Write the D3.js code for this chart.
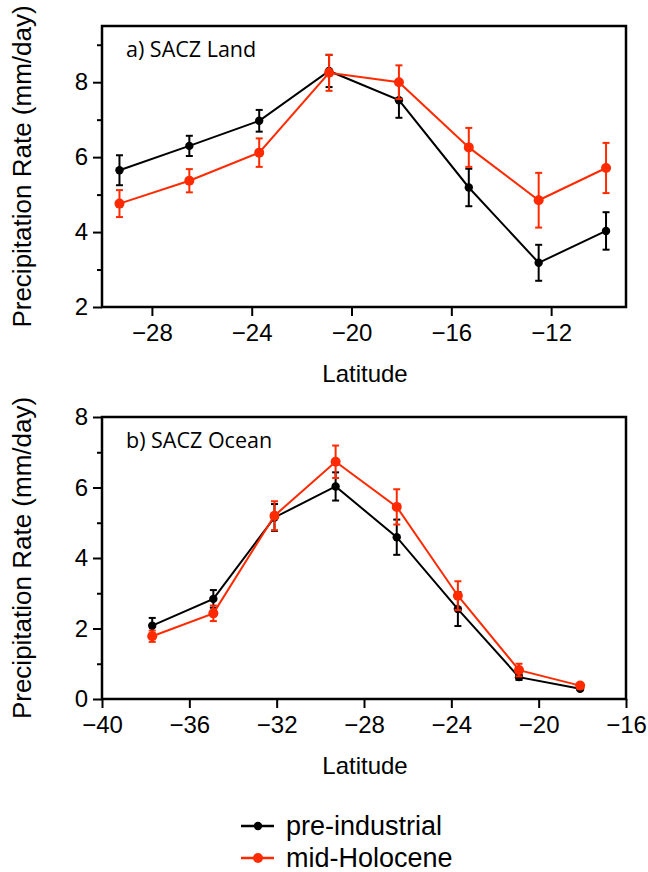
<!DOCTYPE html>
<html lang="en">
<head>
  <meta charset="UTF-8" />
  <title>SACZ precipitation</title>
  <script src="https://d3js.org/d3.v7.min.js"></script>
  <style>
    body { margin: 0; background: white; }
    svg { display: block; }
    .axis text { font-family: 'Liberation Sans', Arial, sans-serif; font-size: 24px; fill: #000; }
    .axis path, .axis line { stroke: #000; stroke-width: 2; }
  </style>
</head>
<body>
  <svg id="chart" width="648" height="872"></svg>
  <script>
    // panel a) SACZ Land
    const landLat = [-29.3, -26.5, -23.7, -20.9, -18.1, -15.3, -12.5, -9.8];
    const landPI = [5.65, 6.30, 6.97, 8.30, 7.52, 5.19, 3.18, 4.03];
    const landPIerr = [0.40, 0.27, 0.29, 0.43, 0.47, 0.50, 0.48, 0.50];
    const landMH = [4.76, 5.37, 6.12, 8.25, 8.00, 6.26, 4.85, 5.71];
    const landMHerr = [0.36, 0.31, 0.38, 0.48, 0.45, 0.52, 0.73, 0.67];

    // panel b) SACZ Ocean
    const oceanLat = [-37.7, -34.9, -32.1, -29.3, -26.5, -23.7, -20.9, -18.1];
    const oceanPI = [2.08, 2.84, 5.15, 6.03, 4.59, 2.55, 0.62, 0.29];
    const oceanPIerr = [0.22, 0.25, 0.38, 0.40, 0.50, 0.48, 0.08, 0.04];
    const oceanMH = [1.78, 2.43, 5.20, 6.73, 5.45, 2.93, 0.82, 0.38];
    const oceanMHerr = [0.16, 0.22, 0.41, 0.46, 0.50, 0.41, 0.18, 0.06];

    const seriesNames = ['pre-industrial', 'mid-Holocene'];
    const seriesColors = ['#000000', '#ff2a00'];

    const svg = d3.select('#chart');
    const left = 102, right = 626;

    const panels = [
      {
        label: 'a) SACZ Land', top: 26, bottom: 307,
        xDomain: [-30, -9], xTicks: [-28, -24, -20, -16, -12],
        yDomain: [2, 9.5], yTicks: [2, 4, 6, 8], yMinor: [3, 5, 7, 9],
        lat: landLat, series: [[landPI, landPIerr], [landMH, landMHerr]]
      },
      {
        label: 'b) SACZ Ocean', top: 417, bottom: 699,
        xDomain: [-40, -16], xTicks: [-40, -36, -32, -28, -24, -20, -16],
        yDomain: [0, 8], yTicks: [0, 2, 4, 6, 8], yMinor: [1, 3, 5, 7],
        lat: oceanLat, series: [[oceanPI, oceanPIerr], [oceanMH, oceanMHerr]]
      }
    ];

    panels.forEach(p => {
      const x = d3.scaleLinear().domain(p.xDomain).range([left, right]);
      const y = d3.scaleLinear().domain(p.yDomain).range([p.bottom, p.top]);
      const g = svg.append('g');

      // minor y ticks
      g.append('g').attr('class', 'axis')
        .attr('transform', `translate(${left},0)`)
        .call(d3.axisLeft(y).tickValues(p.yMinor).tickSize(5).tickFormat(''))
        .call(a => a.select('.domain').remove());

      g.append('g').attr('class', 'axis')
        .attr('transform', `translate(${left},0)`)
        .call(d3.axisLeft(y).tickValues(p.yTicks).tickSize(9).tickPadding(5).tickFormat(d3.format('d')))
        .call(a => a.select('.domain').remove());

      g.append('g').attr('class', 'axis')
        .attr('transform', `translate(0,${p.bottom})`)
        .call(d3.axisBottom(x).tickValues(p.xTicks).tickSize(9).tickPadding(8).tickFormat(d3.format('d')))
        .call(a => a.select('.domain').remove());

      // frame
      g.append('rect')
        .attr('x', left).attr('y', p.top)
        .attr('width', right - left).attr('height', p.bottom - p.top)
        .attr('fill', 'none').attr('stroke', '#000').attr('stroke-width', 2.5);

      g.append('text')
        .attr('x', 126).attr('y', p.top + 31)
        .attr('font-family', "'Open Sans', sans-serif")
        .attr('font-size', '21.5px')
        .text(p.label);

      g.append('text')
        .attr('transform', `translate(31,${(p.top + p.bottom) / 2}) rotate(-90)`)
        .attr('text-anchor', 'middle')
        .attr('font-family', "'Liberation Sans', Arial, sans-serif")
        .attr('font-size', '26px')
        .text('Precipitation Rate (mm/day)');

      g.append('text')
        .attr('x', (left + right) / 2 + 1).attr('y', p.bottom + 75)
        .attr('text-anchor', 'middle')
        .attr('font-family', "'Liberation Sans', Arial, sans-serif")
        .attr('font-size', '24px')
        .text('Latitude');

      const line = d3.line().x(d => x(d[0])).y(d => y(d[1]));

      p.series.forEach(([vals, errs], si) => {
        const col = seriesColors[si];
        const pts = p.lat.map((lat, i) => [lat, vals[i], errs[i]]);
        const sg = g.append('g');

        sg.append('path')
          .datum(pts)
          .attr('d', line)
          .attr('fill', 'none')
          .attr('stroke', col)
          .attr('stroke-width', 2);

        const eb = sg.selectAll('g.err').data(pts).join('g').attr('class', 'err')
          .attr('stroke', col).attr('stroke-width', 2);
        eb.append('line')
          .attr('x1', d => x(d[0])).attr('x2', d => x(d[0]))
          .attr('y1', d => y(d[1] - d[2])).attr('y2', d => y(d[1] + d[2]));
        eb.append('line')
          .attr('x1', d => x(d[0]) - 3.5).attr('x2', d => x(d[0]) + 3.5)
          .attr('y1', d => y(d[1] + d[2])).attr('y2', d => y(d[1] + d[2]));
        eb.append('line')
          .attr('x1', d => x(d[0]) - 3.5).attr('x2', d => x(d[0]) + 3.5)
          .attr('y1', d => y(d[1] - d[2])).attr('y2', d => y(d[1] - d[2]));

        sg.selectAll('circle').data(pts).join('circle')
          .attr('cx', d => x(d[0])).attr('cy', d => y(d[1]))
          .attr('r', si === 0 ? 4.2 : 5)
          .attr('fill', col);
      });
    });

    // legend
    const legend = svg.append('g');
    seriesNames.forEach((name, i) => {
      const yy = 826 + i * 32;
      legend.append('line')
        .attr('x1', 241).attr('x2', 274).attr('y1', yy).attr('y2', yy)
        .attr('stroke', seriesColors[i]).attr('stroke-width', 2.5);
      legend.append('circle')
        .attr('cx', 258).attr('cy', yy).attr('r', i === 0 ? 4.2 : 5)
        .attr('fill', seriesColors[i]);
      legend.append('text')
        .attr('x', 286).attr('y', yy).attr('dy', '0.33em')
        .attr('font-family', "'Liberation Sans', Arial, sans-serif")
        .attr('font-size', '27px')
        .text(name);
    });
  </script>
</body>
</html>
